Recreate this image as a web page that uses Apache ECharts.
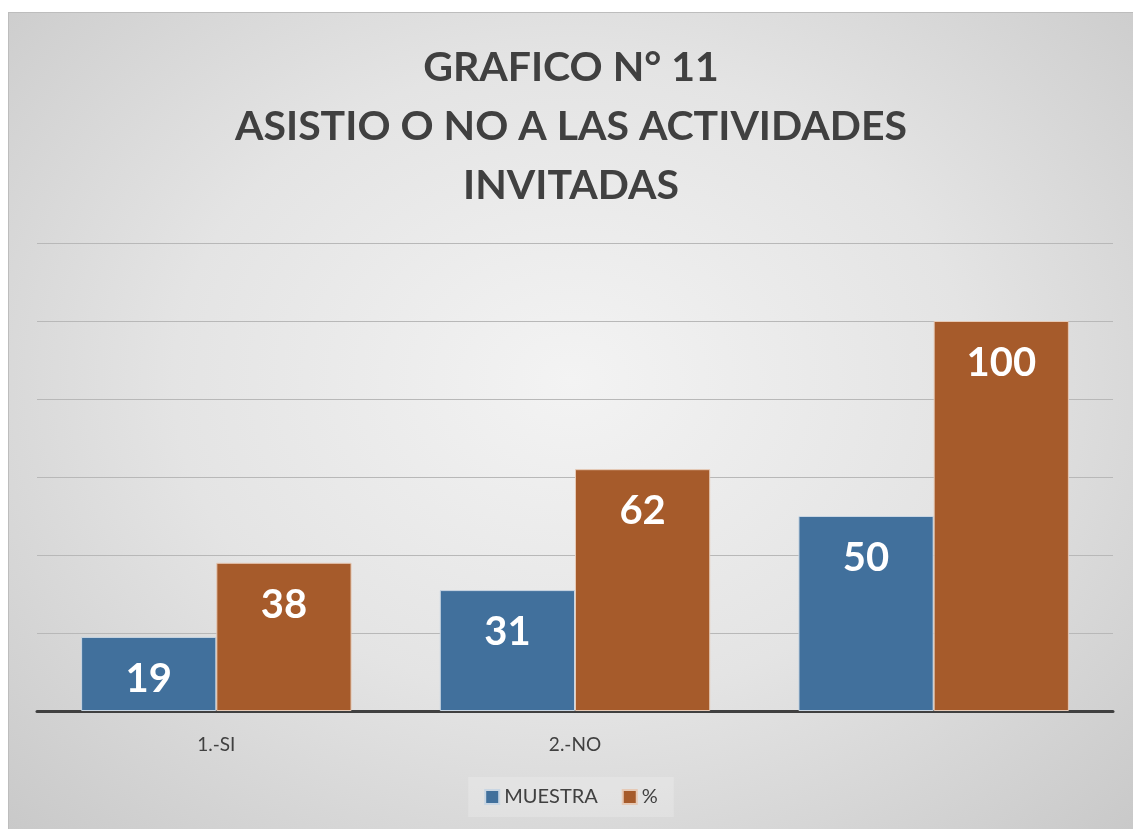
<!DOCTYPE html>
<html>
<head>
<meta charset="utf-8">
<script src="https://cdn.jsdelivr.net/npm/echarts@6/dist/echarts.min.js"></script>
<style>
    html, body { margin: 0; padding: 0; background: #ffffff; }
    #chart {
        position: absolute;
        left: 8px;
        top: 12px;
        width: 1125px;
        height: 817px;
        border-top: 1px solid #bdbdbd;
        border-left: 1px solid #bdbdbd;
        box-sizing: border-box;
        background: radial-gradient(ellipse at 50% 45%, #f3f3f3 0%, #e4e4e4 50%, #c9c9c9 100%);
    }
</style>
</head>
<body>
<div id="chart"></div>
<script>
    // datos del grafico
    var categorias = ['1.-SI', '2.-NO', ''];
    var muestra = [19, 31, 50];
    var porcentaje = [38, 62, 100];

    var chart = echarts.init(document.getElementById('chart'));

    var etiqueta = {
        show: true,
        position: 'insideTop',
        distance: 22,
        color: '#ffffff',
        fontFamily: 'Lato',
        fontWeight: 'bold',
        fontSize: 40
    };

    chart.setOption({
        backgroundColor: 'transparent',
        title: {
            text: 'GRAFICO N° 11\nASISTIO O NO A LAS ACTIVIDADES\nINVITADAS',
            left: 'center',
            top: 20,
            textStyle: {
                fontFamily: 'Lato',
                fontWeight: 'bold',
                fontSize: 41,
                lineHeight: 59,
                color: '#404040'
            }
        },
        legend: {
            bottom: 12,
            left: 'center',
            itemWidth: 14,
            itemHeight: 14,
            itemGap: 24,
            padding: [10, 16],
            backgroundColor: 'rgba(255,255,255,0.2)',
            icon: 'rect',
            textStyle: { fontFamily: 'Lato', fontSize: 20, color: '#404040' },
            data: ['MUESTRA', '%']
        },
        grid: { left: 28, right: 20, top: 230, bottom: 118 },
        xAxis: {
            type: 'category',
            data: categorias,
            axisLine: { lineStyle: { color: '#404040', width: 3 } },
            axisTick: { show: false },
            axisLabel: { fontFamily: 'Lato', fontSize: 19, color: '#404040', margin: 24 }
        },
        yAxis: {
            type: 'value',
            min: 0,
            max: 120,
            interval: 20,
            axisLabel: { show: false },
            axisLine: { show: false },
            axisTick: { show: false },
            splitLine: { lineStyle: { color: '#b8b8b8', width: 1 } }
        },
        series: [
            {
                name: 'MUESTRA',
                type: 'bar',
                data: muestra,
                barGap: '0%',
                barCategoryGap: '24.6%',
                itemStyle: { color: '#41709c', borderColor: '#c9d6e3', borderWidth: 1 },
                label: etiqueta
            },
            {
                name: '%',
                type: 'bar',
                data: porcentaje,
                itemStyle: { color: '#a65b2b', borderColor: '#e6c9b5', borderWidth: 1 },
                label: etiqueta
            }
        ]
    });
</script>
</body>
</html>
